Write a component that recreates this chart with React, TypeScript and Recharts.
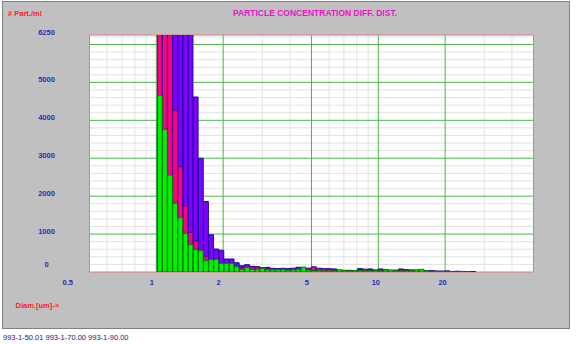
import { ComposedChart, Bar, XAxis, YAxis, CartesianGrid, ReferenceArea } from "recharts";

// bin centre diameters in um (log-spaced channels)
const diameters = [
  1.038, 1.094, 1.154, 1.217, 1.284, 1.354, 1.428, 1.506, 1.589, 1.676,
  1.767, 1.864, 1.966, 2.073, 2.187, 2.306, 2.433, 2.566, 2.706, 2.854,
  3.01, 3.175, 3.348, 3.532, 3.725, 3.929, 4.143, 4.37, 4.609, 4.861,
  5.127, 5.408, 5.703, 6.015, 6.344, 6.692, 7.058, 7.444, 7.851, 8.28,
  8.733, 9.211, 9.715, 10.25, 10.81, 11.4, 12.02, 12.68, 13.37, 14.1,
  14.88, 15.69, 16.55, 17.45, 18.41, 19.42, 20.48, 21.6, 22.78, 24.03,
  25.34, 26.73,
];

// 993-1-50.01 (green)
const s50 = [
  4650, 3760, 2555, 1815, 1432, 1020, 725, 595, 570, 300,
  330, 335, 229, 229, 229, 140, 70, 123, 70, 70,
  97, 62, 62, 62, 70, 50, 60, 75, 130, 50,
  40, 40, 30, 30, 30, 60, 45, 30, 40, 40,
  30, 35, 40, 30, 55, 55, 30, 30, 30, 35,
  60, 70, 30, 20, 20, 15, 10, 10, 5, 5,
  5, 0,
];

// 993-1-70.00 (pink)
const s70 = [
  9000, 8500, 7200, 4270, 2780, 1745, 1050, 825, 500, 415,
  280, 250, 200, 180, 180, 120, 113, 100, 135, 135,
  60, 97, 60, 50, 50, 40, 60, 50, 60, 90,
  140, 100, 90, 80, 45, 30, 30, 35, 30, 50,
  75, 40, 35, 50, 50, 30, 35, 55, 60, 30,
  25, 20, 20, 25, 15, 20, 15, 10, 10, 10,
  5, 5,
];

// 993-1-90.00 (purple)
const s90 = [
  4000, 5500, 6600, 8000, 8500, 7800, 6600, 4615, 3000, 1860,
  980, 606, 572, 343, 343, 245, 166, 193, 150, 140,
  113, 123, 97, 90, 97, 90, 100, 125, 110, 100,
  80, 90, 70, 85, 80, 40, 40, 45, 35, 90,
  60, 80, 55, 80, 60, 40, 50, 80, 60, 55,
  40, 35, 30, 40, 25, 20, 30, 15, 20, 15,
  10, 10,
];

const xTicks = [0.5, 1, 2, 5, 10, 20];
const xMajor = [1, 2, 5, 10, 20];
const xMinor = [0.6, 0.7, 0.8, 0.9, 3, 4, 6, 7, 8, 9, 30, 40];
const yTicks = [0, 1000, 2000, 3000, 4000, 5000, 6250];
const yMajor = [1000, 2000, 3000, 4000, 5000, 6000];
const yTickMarks = [
  200, 400, 600, 800, 1000, 1200, 1400, 1600, 1800, 2000, 2200, 2400, 2600, 2800, 3000, 3200,
  3400, 3600, 3800, 4000, 4200, 4400, 4600, 4800, 5000, 5200, 5400, 5600, 5800, 6000, 6200,
];
const yMinor = yTickMarks.filter((v) => v % 1000 !== 0);

const rows = diameters.map((d, i) => ({ d, s50: s50[i], s70: s70[i], s90: s90[i] }));

const FONT = "'Liberation Sans', Arial, sans-serif";
const BLUE = "#2a2ac0";
const RED = "#ff2020";
const GREEN = "#4cb44c";
// bars of one channel lie on top of each other (purple behind, green in front)
const BAR_W = 4.8;
const X_DOMAIN: [number, number] = [0.5, 50];
const Y_DOMAIN: [number, number] = [0, 6250];

const renderXTick = (props: any) => {
  const { x, y, payload } = props;
  const dx = payload.value === 0.5 ? -27 : -6.7;
  return (
    <text x={x + dx} y={y + 13} textAnchor="start" fill={BLUE} fontSize={7.5} fontWeight="bold" fontFamily={FONT}>
      {payload.value}
    </text>
  );
};

const renderYTick = (props: any) => {
  const { x, y, payload } = props;
  const dy = payload.value === 0 ? -5 : 0;
  return (
    <text x={x - 43} y={y + dy} textAnchor="middle" fill={BLUE} fontSize={7.5} fontWeight="bold" fontFamily={FONT}>
      {payload.value}
    </text>
  );
};

export default function App() {
  return (
    <div style={{ position: "absolute", left: 0, top: 0, width: 578, height: 344, background: "#fff", overflow: "hidden" }}>
      <div
        style={{
          position: "absolute",
          left: 2,
          top: 1,
          width: 566,
          height: 326,
          background: "#c0c0c0",
          border: "1px solid #808080",
        }}
      />
      <div style={{ position: "absolute", left: 0, top: 0 }}>
        <ComposedChart
          width={578}
          height={344}
          data={rows}
          margin={{ top: 35, right: 44.5, bottom: 52, left: 49.5 }}
          barGap={-BAR_W}
        >
          <CartesianGrid fill="#fff" stroke="#e2e2e2" horizontalValues={yMinor} verticalValues={xMinor} />
          <CartesianGrid stroke={GREEN} horizontalValues={yMajor} verticalValues={xMajor} />
          <XAxis
            dataKey="d"
            type="number"
            scale="log"
            domain={X_DOMAIN}
            allowDataOverflow
            ticks={xTicks}
            interval={0}
            tickLine={false}
            axisLine={false}
            tickSize={0}
            tickMargin={0}
            height={20}
            tick={renderXTick}
          />
          <YAxis
            type="number"
            domain={Y_DOMAIN}
            allowDataOverflow
            ticks={yTicks}
            interval={0}
            tickLine={false}
            axisLine={false}
            tickSize={0}
            tickMargin={0}
            width={40}
            tick={renderYTick}
          />
          {/* short inward tick marks on the frame */}
          <XAxis xAxisId="top" orientation="top" mirror type="number" scale="log" domain={X_DOMAIN} allowDataOverflow
            ticks={xMinor} interval={0} tick={false} axisLine={false} tickLine={{ stroke: "#2a8a2a" }} tickSize={4} />
          <XAxis xAxisId="bot" orientation="bottom" mirror type="number" scale="log" domain={X_DOMAIN} allowDataOverflow
            ticks={xMinor} interval={0} tick={false} axisLine={false} tickLine={{ stroke: "#2a8a2a" }} tickSize={4} />
          <YAxis yAxisId="l" orientation="left" mirror type="number" domain={Y_DOMAIN} allowDataOverflow
            ticks={yTickMarks} interval={0} tick={false} axisLine={false} tickLine={{ stroke: GREEN }} tickSize={7} />
          <YAxis yAxisId="r" orientation="right" mirror type="number" domain={Y_DOMAIN} allowDataOverflow
            ticks={yTickMarks} interval={0} tick={false} axisLine={false} tickLine={{ stroke: GREEN }} tickSize={7} />
          <Bar dataKey="s90" fill="#8000ff" stroke="#1a0a9a" strokeWidth={1} barSize={BAR_W} isAnimationActive={false} />
          <Bar dataKey="s70" fill="#ff0080" stroke="#3a0a8a" strokeWidth={1} barSize={BAR_W} isAnimationActive={false} />
          <Bar dataKey="s50" fill="#00f000" stroke="#007a00" strokeWidth={1} barSize={BAR_W} isAnimationActive={false} />
          <ReferenceArea x1={0.5} x2={50} y1={0} y2={6250} fill="none" stroke="#d88080" strokeWidth={1} ifOverflow="visible" />
        </ComposedChart>
      </div>
      <svg width={578} height={344} style={{ position: "absolute", left: 0, top: 0, pointerEvents: "none" }}>
        <text x={8} y={15.5} fill={RED} fontSize={7.5} fontWeight="bold" fontFamily={FONT}>
          # Part./ml
        </text>
        <text x={315} y={15.5} textAnchor="middle" fill="#f010c8" fontSize={8.5} fontWeight="bold" fontFamily={FONT}>
          PARTICLE CONCENTRATION DIFF. DIST.
        </text>
        <text x={15.5} y={308} fill={RED} fontSize={7.5} fontWeight="bold" fontFamily={FONT}>
          Diam.[um]-&gt;
        </text>
        <text x={3} y={340} fill="#202088" fontSize={7.5} fontFamily={FONT}>
          993-1-50.01 993-1-70.00 993-1-90.00
        </text>
      </svg>
    </div>
  );
}
